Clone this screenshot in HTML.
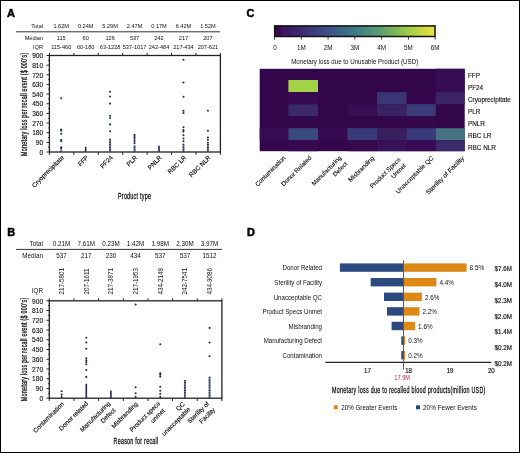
<!DOCTYPE html>
<html><head><meta charset="utf-8"><style>
html,body{margin:0;padding:0;background:#fff;width:520px;height:453px;overflow:hidden}
svg{display:block;will-change:transform}
text{font-family:"Liberation Sans", sans-serif}
</style></head><body>
<svg width="520" height="453" viewBox="0 0 520 453">
<rect x="0.5" y="0.5" width="519" height="452" fill="#fff" stroke="#000" stroke-width="1"/>
<text x="7.00" y="17.00" font-size="11" text-anchor="start" fill="#000" font-weight="bold" stroke="#000" stroke-width="0.5">A</text>
<text x="43.00" y="27.60" font-size="5.6" text-anchor="end" fill="#111" font-weight="normal" >Total</text>
<text x="61.20" y="27.60" font-size="5.6" text-anchor="middle" fill="#111" font-weight="normal" >1.62M</text>
<text x="85.65" y="27.60" font-size="5.6" text-anchor="middle" fill="#111" font-weight="normal" >0.24M</text>
<text x="110.10" y="27.60" font-size="5.6" text-anchor="middle" fill="#111" font-weight="normal" >5.29M</text>
<text x="134.55" y="27.60" font-size="5.6" text-anchor="middle" fill="#111" font-weight="normal" >2.47M</text>
<text x="159.00" y="27.60" font-size="5.6" text-anchor="middle" fill="#111" font-weight="normal" >0.17M</text>
<text x="183.45" y="27.60" font-size="5.6" text-anchor="middle" fill="#111" font-weight="normal" >6.42M</text>
<text x="207.90" y="27.60" font-size="5.6" text-anchor="middle" fill="#111" font-weight="normal" >1.52M</text>
<line x1="16" y1="31.8" x2="220" y2="31.8" stroke="#333" stroke-width="1"/>
<text x="43.00" y="39.60" font-size="5.6" text-anchor="end" fill="#111" font-weight="normal" >Median</text>
<text x="61.20" y="39.60" font-size="5.6" text-anchor="middle" fill="#111" font-weight="normal" >115</text>
<text x="85.65" y="39.60" font-size="5.6" text-anchor="middle" fill="#111" font-weight="normal" >60</text>
<text x="110.10" y="39.60" font-size="5.6" text-anchor="middle" fill="#111" font-weight="normal" >126</text>
<text x="134.55" y="39.60" font-size="5.6" text-anchor="middle" fill="#111" font-weight="normal" >537</text>
<text x="159.00" y="39.60" font-size="5.6" text-anchor="middle" fill="#111" font-weight="normal" >242</text>
<text x="183.45" y="39.60" font-size="5.6" text-anchor="middle" fill="#111" font-weight="normal" >217</text>
<text x="207.90" y="39.60" font-size="5.6" text-anchor="middle" fill="#111" font-weight="normal" >207</text>
<text x="43.00" y="48.50" font-size="5.6" text-anchor="end" fill="#111" font-weight="normal" >IQR</text>
<text x="61.20" y="48.50" font-size="5.6" text-anchor="middle" fill="#111" font-weight="normal" >115-460</text>
<text x="85.65" y="48.50" font-size="5.6" text-anchor="middle" fill="#111" font-weight="normal" >60-180</text>
<text x="110.10" y="48.50" font-size="5.6" text-anchor="middle" fill="#111" font-weight="normal" >63-1228</text>
<text x="134.55" y="48.50" font-size="5.6" text-anchor="middle" fill="#111" font-weight="normal" >537-1017</text>
<text x="159.00" y="48.50" font-size="5.6" text-anchor="middle" fill="#111" font-weight="normal" >242-484</text>
<text x="183.45" y="48.50" font-size="5.6" text-anchor="middle" fill="#111" font-weight="normal" >217-434</text>
<text x="207.90" y="48.50" font-size="5.6" text-anchor="middle" fill="#111" font-weight="normal" >207-621</text>
<rect x="49.4" y="55.5" width="171.0" height="96.5" fill="none" stroke="#222" stroke-width="1.3"/>
<line x1="46.6" y1="152.00" x2="49.4" y2="152.00" stroke="#222" stroke-width="1.0"/>
<text x="43.20" y="154.70" font-size="6.6" text-anchor="end" fill="#111" font-weight="normal"  stroke="#111" stroke-width="0.12">0</text>
<line x1="48.0" y1="147.18" x2="49.4" y2="147.18" stroke="#222" stroke-width="0.8"/>
<line x1="46.6" y1="142.35" x2="49.4" y2="142.35" stroke="#222" stroke-width="1.0"/>
<text x="43.20" y="145.05" font-size="6.6" text-anchor="end" fill="#111" font-weight="normal"  stroke="#111" stroke-width="0.12">90</text>
<line x1="48.0" y1="137.53" x2="49.4" y2="137.53" stroke="#222" stroke-width="0.8"/>
<line x1="46.6" y1="132.70" x2="49.4" y2="132.70" stroke="#222" stroke-width="1.0"/>
<text x="43.20" y="135.40" font-size="6.6" text-anchor="end" fill="#111" font-weight="normal"  stroke="#111" stroke-width="0.12">180</text>
<line x1="48.0" y1="127.87" x2="49.4" y2="127.87" stroke="#222" stroke-width="0.8"/>
<line x1="46.6" y1="123.05" x2="49.4" y2="123.05" stroke="#222" stroke-width="1.0"/>
<text x="43.20" y="125.75" font-size="6.6" text-anchor="end" fill="#111" font-weight="normal"  stroke="#111" stroke-width="0.12">270</text>
<line x1="48.0" y1="118.22" x2="49.4" y2="118.22" stroke="#222" stroke-width="0.8"/>
<line x1="46.6" y1="113.40" x2="49.4" y2="113.40" stroke="#222" stroke-width="1.0"/>
<text x="43.20" y="116.10" font-size="6.6" text-anchor="end" fill="#111" font-weight="normal"  stroke="#111" stroke-width="0.12">360</text>
<line x1="48.0" y1="108.58" x2="49.4" y2="108.58" stroke="#222" stroke-width="0.8"/>
<line x1="46.6" y1="103.75" x2="49.4" y2="103.75" stroke="#222" stroke-width="1.0"/>
<text x="43.20" y="106.45" font-size="6.6" text-anchor="end" fill="#111" font-weight="normal"  stroke="#111" stroke-width="0.12">450</text>
<line x1="48.0" y1="98.92" x2="49.4" y2="98.92" stroke="#222" stroke-width="0.8"/>
<line x1="46.6" y1="94.10" x2="49.4" y2="94.10" stroke="#222" stroke-width="1.0"/>
<text x="43.20" y="96.80" font-size="6.6" text-anchor="end" fill="#111" font-weight="normal"  stroke="#111" stroke-width="0.12">540</text>
<line x1="48.0" y1="89.27" x2="49.4" y2="89.27" stroke="#222" stroke-width="0.8"/>
<line x1="46.6" y1="84.45" x2="49.4" y2="84.45" stroke="#222" stroke-width="1.0"/>
<text x="43.20" y="87.15" font-size="6.6" text-anchor="end" fill="#111" font-weight="normal"  stroke="#111" stroke-width="0.12">630</text>
<line x1="48.0" y1="79.62" x2="49.4" y2="79.62" stroke="#222" stroke-width="0.8"/>
<line x1="46.6" y1="74.80" x2="49.4" y2="74.80" stroke="#222" stroke-width="1.0"/>
<text x="43.20" y="77.50" font-size="6.6" text-anchor="end" fill="#111" font-weight="normal"  stroke="#111" stroke-width="0.12">720</text>
<line x1="48.0" y1="69.97" x2="49.4" y2="69.97" stroke="#222" stroke-width="0.8"/>
<line x1="46.6" y1="65.15" x2="49.4" y2="65.15" stroke="#222" stroke-width="1.0"/>
<text x="43.20" y="67.85" font-size="6.6" text-anchor="end" fill="#111" font-weight="normal"  stroke="#111" stroke-width="0.12">810</text>
<line x1="48.0" y1="60.32" x2="49.4" y2="60.32" stroke="#222" stroke-width="0.8"/>
<line x1="46.6" y1="55.50" x2="49.4" y2="55.50" stroke="#222" stroke-width="1.0"/>
<text x="43.20" y="58.20" font-size="6.6" text-anchor="end" fill="#111" font-weight="normal"  stroke="#111" stroke-width="0.12">900</text>
<line x1="49.40" y1="53.0" x2="49.40" y2="55.5" stroke="#222" stroke-width="1.0"/>
<line x1="49.40" y1="152.0" x2="49.40" y2="154.8" stroke="#222" stroke-width="1.0"/>
<line x1="73.83" y1="53.0" x2="73.83" y2="55.5" stroke="#222" stroke-width="1.0"/>
<line x1="73.83" y1="152.0" x2="73.83" y2="154.8" stroke="#222" stroke-width="1.0"/>
<line x1="98.26" y1="53.0" x2="98.26" y2="55.5" stroke="#222" stroke-width="1.0"/>
<line x1="98.26" y1="152.0" x2="98.26" y2="154.8" stroke="#222" stroke-width="1.0"/>
<line x1="122.69" y1="53.0" x2="122.69" y2="55.5" stroke="#222" stroke-width="1.0"/>
<line x1="122.69" y1="152.0" x2="122.69" y2="154.8" stroke="#222" stroke-width="1.0"/>
<line x1="147.11" y1="53.0" x2="147.11" y2="55.5" stroke="#222" stroke-width="1.0"/>
<line x1="147.11" y1="152.0" x2="147.11" y2="154.8" stroke="#222" stroke-width="1.0"/>
<line x1="171.54" y1="53.0" x2="171.54" y2="55.5" stroke="#222" stroke-width="1.0"/>
<line x1="171.54" y1="152.0" x2="171.54" y2="154.8" stroke="#222" stroke-width="1.0"/>
<line x1="195.97" y1="53.0" x2="195.97" y2="55.5" stroke="#222" stroke-width="1.0"/>
<line x1="195.97" y1="152.0" x2="195.97" y2="154.8" stroke="#222" stroke-width="1.0"/>
<line x1="220.40" y1="53.0" x2="220.40" y2="55.5" stroke="#222" stroke-width="1.0"/>
<line x1="220.40" y1="152.0" x2="220.40" y2="154.8" stroke="#222" stroke-width="1.0"/>
<circle cx="61.20" cy="98.30" r="1.05" fill="#222a52"/>
<circle cx="61.20" cy="129.50" r="1.05" fill="#222a52"/>
<circle cx="61.20" cy="130.70" r="1.05" fill="#222a52"/>
<circle cx="61.20" cy="133.80" r="1.05" fill="#222a52"/>
<circle cx="61.20" cy="140.00" r="1.05" fill="#222a52"/>
<circle cx="61.20" cy="141.20" r="1.05" fill="#222a52"/>
<circle cx="61.20" cy="147.40" r="1.05" fill="#222a52"/>
<circle cx="61.20" cy="148.60" r="1.05" fill="#222a52"/>
<rect x="60.25" y="150.30" width="1.9" height="1.4" fill="#222a52"/>
<rect x="84.85" y="146.80" width="1.6" height="5.20" fill="#222a52"/>
<circle cx="110.10" cy="91.70" r="1.05" fill="#222a52"/>
<circle cx="110.10" cy="96.50" r="1.05" fill="#222a52"/>
<circle cx="110.10" cy="103.60" r="1.05" fill="#222a52"/>
<circle cx="110.10" cy="115.80" r="1.05" fill="#222a52"/>
<circle cx="110.10" cy="118.00" r="1.05" fill="#222a52"/>
<circle cx="110.10" cy="124.40" r="1.05" fill="#222a52"/>
<circle cx="110.10" cy="131.20" r="1.05" fill="#222a52"/>
<rect x="109.15" y="150.30" width="1.9" height="1.4" fill="#222a52"/>
<rect x="109.15" y="148.65" width="1.9" height="1.4" fill="#222a52"/>
<rect x="109.15" y="147.00" width="1.9" height="1.4" fill="#222a52"/>
<rect x="109.15" y="145.35" width="1.9" height="1.4" fill="#222a52"/>
<rect x="109.15" y="143.70" width="1.9" height="1.4" fill="#222a52"/>
<rect x="109.15" y="142.05" width="1.9" height="1.4" fill="#222a52"/>
<rect x="109.15" y="140.40" width="1.9" height="1.4" fill="#222a52"/>
<rect x="109.15" y="138.75" width="1.9" height="1.4" fill="#222a52"/>
<circle cx="134.55" cy="134.90" r="1.05" fill="#222a52"/>
<circle cx="134.55" cy="136.90" r="1.05" fill="#222a52"/>
<circle cx="134.55" cy="138.80" r="1.05" fill="#222a52"/>
<circle cx="134.55" cy="140.90" r="1.05" fill="#222a52"/>
<circle cx="134.55" cy="143.10" r="1.05" fill="#222a52"/>
<rect x="133.60" y="150.30" width="1.9" height="1.4" fill="#222a52"/>
<rect x="133.60" y="148.65" width="1.9" height="1.4" fill="#222a52"/>
<rect x="133.60" y="147.00" width="1.9" height="1.4" fill="#222a52"/>
<rect x="133.60" y="145.35" width="1.9" height="1.4" fill="#222a52"/>
<rect x="158.20" y="145.70" width="1.6" height="6.30" fill="#222a52"/>
<circle cx="183.45" cy="59.70" r="1.05" fill="#222a52"/>
<circle cx="183.45" cy="82.50" r="1.05" fill="#222a52"/>
<circle cx="183.45" cy="96.80" r="1.05" fill="#222a52"/>
<circle cx="183.45" cy="110.70" r="1.05" fill="#222a52"/>
<circle cx="183.45" cy="113.00" r="1.05" fill="#222a52"/>
<circle cx="183.45" cy="127.20" r="1.05" fill="#222a52"/>
<circle cx="183.45" cy="130.00" r="1.05" fill="#222a52"/>
<circle cx="183.45" cy="131.60" r="1.05" fill="#222a52"/>
<circle cx="183.45" cy="135.30" r="1.05" fill="#222a52"/>
<circle cx="183.45" cy="138.50" r="1.05" fill="#222a52"/>
<circle cx="183.45" cy="141.30" r="1.05" fill="#222a52"/>
<rect x="182.50" y="150.30" width="1.9" height="1.4" fill="#222a52"/>
<rect x="182.50" y="148.65" width="1.9" height="1.4" fill="#222a52"/>
<rect x="182.50" y="147.00" width="1.9" height="1.4" fill="#222a52"/>
<rect x="182.50" y="145.35" width="1.9" height="1.4" fill="#222a52"/>
<rect x="182.50" y="143.70" width="1.9" height="1.4" fill="#222a52"/>
<circle cx="207.90" cy="110.70" r="1.05" fill="#222a52"/>
<circle cx="207.90" cy="130.70" r="1.05" fill="#222a52"/>
<circle cx="207.90" cy="137.60" r="1.05" fill="#222a52"/>
<circle cx="207.90" cy="140.00" r="1.05" fill="#222a52"/>
<rect x="206.95" y="150.30" width="1.9" height="1.4" fill="#222a52"/>
<rect x="206.95" y="148.65" width="1.9" height="1.4" fill="#222a52"/>
<rect x="206.95" y="147.00" width="1.9" height="1.4" fill="#222a52"/>
<rect x="206.95" y="145.35" width="1.9" height="1.4" fill="#222a52"/>
<rect x="206.95" y="143.70" width="1.9" height="1.4" fill="#222a52"/>
<rect x="206.95" y="142.05" width="1.9" height="1.4" fill="#222a52"/>
<text x="0" y="0" font-size="6.3" text-anchor="end" fill="#111" stroke="#111" stroke-width="0.15" transform="translate(64.40,158.00) rotate(-45)">Cryoprecipitate</text>
<text x="0" y="0" font-size="6.3" text-anchor="end" fill="#111" stroke="#111" stroke-width="0.15" transform="translate(88.85,158.00) rotate(-45)">FFP</text>
<text x="0" y="0" font-size="6.3" text-anchor="end" fill="#111" stroke="#111" stroke-width="0.15" transform="translate(113.30,158.00) rotate(-45)">PF24</text>
<text x="0" y="0" font-size="6.3" text-anchor="end" fill="#111" stroke="#111" stroke-width="0.15" transform="translate(137.75,158.00) rotate(-45)">PLR</text>
<text x="0" y="0" font-size="6.3" text-anchor="end" fill="#111" stroke="#111" stroke-width="0.15" transform="translate(162.20,158.00) rotate(-45)">PNLR</text>
<text x="0" y="0" font-size="6.3" text-anchor="end" fill="#111" stroke="#111" stroke-width="0.15" transform="translate(186.65,158.00) rotate(-45)">RBC LR</text>
<text x="0" y="0" font-size="6.3" text-anchor="end" fill="#111" stroke="#111" stroke-width="0.15" transform="translate(211.10,158.00) rotate(-45)">RBC NLR</text>
<text x="0" y="0" font-size="8.4" font-weight="normal" fill="#111" textLength="161.25" lengthAdjust="spacing" transform="translate(26.80,155.90) rotate(-90) scale(0.64,1)" stroke="#111" stroke-width="0.28">Monetary loss per recall event ($ 000's)</text>
<text x="0" y="0" font-size="8.4" font-weight="normal" fill="#111" textLength="51.56" lengthAdjust="spacing" transform="translate(118.00,199.20) scale(0.64,1)" stroke="#111" stroke-width="0.28">Product type</text>
<text x="7.20" y="236.30" font-size="11" text-anchor="start" fill="#000" font-weight="bold" stroke="#000" stroke-width="0.5">B</text>
<text x="43.00" y="246.30" font-size="6.3" text-anchor="end" fill="#111" font-weight="normal" >Total</text>
<text x="61.63" y="246.30" font-size="6.3" text-anchor="middle" fill="#111" font-weight="normal" >0.21M</text>
<text x="86.29" y="246.30" font-size="6.3" text-anchor="middle" fill="#111" font-weight="normal" >7.61M</text>
<text x="110.94" y="246.30" font-size="6.3" text-anchor="middle" fill="#111" font-weight="normal" >0.23M</text>
<text x="135.60" y="246.30" font-size="6.3" text-anchor="middle" fill="#111" font-weight="normal" >1.42M</text>
<text x="160.26" y="246.30" font-size="6.3" text-anchor="middle" fill="#111" font-weight="normal" >1.98M</text>
<text x="184.91" y="246.30" font-size="6.3" text-anchor="middle" fill="#111" font-weight="normal" >2.30M</text>
<text x="209.57" y="246.30" font-size="6.3" text-anchor="middle" fill="#111" font-weight="normal" >3.97M</text>
<line x1="16" y1="249.4" x2="222" y2="249.4" stroke="#333" stroke-width="1"/>
<text x="43.00" y="257.70" font-size="6.3" text-anchor="end" fill="#111" font-weight="normal" >Median</text>
<text x="61.63" y="257.70" font-size="6.3" text-anchor="middle" fill="#111" font-weight="normal" >537</text>
<text x="86.29" y="257.70" font-size="6.3" text-anchor="middle" fill="#111" font-weight="normal" >217</text>
<text x="110.94" y="257.70" font-size="6.3" text-anchor="middle" fill="#111" font-weight="normal" >230</text>
<text x="135.60" y="257.70" font-size="6.3" text-anchor="middle" fill="#111" font-weight="normal" >434</text>
<text x="160.26" y="257.70" font-size="6.3" text-anchor="middle" fill="#111" font-weight="normal" >537</text>
<text x="184.91" y="257.70" font-size="6.3" text-anchor="middle" fill="#111" font-weight="normal" >537</text>
<text x="209.57" y="257.70" font-size="6.3" text-anchor="middle" fill="#111" font-weight="normal" >1512</text>
<text x="43.00" y="292.80" font-size="6.3" text-anchor="end" fill="#111" font-weight="normal" >IQR</text>
<text x="0" y="0" font-size="6.3" text-anchor="start" fill="#111" transform="translate(63.93,294.6) rotate(-90)">217-5801</text>
<text x="0" y="0" font-size="6.3" text-anchor="start" fill="#111" transform="translate(88.59,294.6) rotate(-90)">207-1611</text>
<text x="0" y="0" font-size="6.3" text-anchor="start" fill="#111" transform="translate(113.24,294.6) rotate(-90)">217-3871</text>
<text x="0" y="0" font-size="6.3" text-anchor="start" fill="#111" transform="translate(137.90,294.6) rotate(-90)">217-1953</text>
<text x="0" y="0" font-size="6.3" text-anchor="start" fill="#111" transform="translate(162.56,294.6) rotate(-90)">434-2148</text>
<text x="0" y="0" font-size="6.3" text-anchor="start" fill="#111" transform="translate(187.21,294.6) rotate(-90)">242-7541</text>
<text x="0" y="0" font-size="6.3" text-anchor="start" fill="#111" transform="translate(211.87,294.6) rotate(-90)">434-9086</text>
<rect x="49.3" y="300.8" width="172.60000000000002" height="97.39999999999998" fill="none" stroke="#222" stroke-width="1.3"/>
<line x1="46.5" y1="398.20" x2="49.3" y2="398.20" stroke="#222" stroke-width="1.0"/>
<text x="43.10" y="400.90" font-size="6.6" text-anchor="end" fill="#111" font-weight="normal"  stroke="#111" stroke-width="0.12">0</text>
<line x1="47.9" y1="393.33" x2="49.3" y2="393.33" stroke="#222" stroke-width="0.8"/>
<line x1="46.5" y1="388.46" x2="49.3" y2="388.46" stroke="#222" stroke-width="1.0"/>
<text x="43.10" y="391.16" font-size="6.6" text-anchor="end" fill="#111" font-weight="normal"  stroke="#111" stroke-width="0.12">90</text>
<line x1="47.9" y1="383.59" x2="49.3" y2="383.59" stroke="#222" stroke-width="0.8"/>
<line x1="46.5" y1="378.72" x2="49.3" y2="378.72" stroke="#222" stroke-width="1.0"/>
<text x="43.10" y="381.42" font-size="6.6" text-anchor="end" fill="#111" font-weight="normal"  stroke="#111" stroke-width="0.12">180</text>
<line x1="47.9" y1="373.85" x2="49.3" y2="373.85" stroke="#222" stroke-width="0.8"/>
<line x1="46.5" y1="368.98" x2="49.3" y2="368.98" stroke="#222" stroke-width="1.0"/>
<text x="43.10" y="371.68" font-size="6.6" text-anchor="end" fill="#111" font-weight="normal"  stroke="#111" stroke-width="0.12">270</text>
<line x1="47.9" y1="364.11" x2="49.3" y2="364.11" stroke="#222" stroke-width="0.8"/>
<line x1="46.5" y1="359.24" x2="49.3" y2="359.24" stroke="#222" stroke-width="1.0"/>
<text x="43.10" y="361.94" font-size="6.6" text-anchor="end" fill="#111" font-weight="normal"  stroke="#111" stroke-width="0.12">360</text>
<line x1="47.9" y1="354.37" x2="49.3" y2="354.37" stroke="#222" stroke-width="0.8"/>
<line x1="46.5" y1="349.50" x2="49.3" y2="349.50" stroke="#222" stroke-width="1.0"/>
<text x="43.10" y="352.20" font-size="6.6" text-anchor="end" fill="#111" font-weight="normal"  stroke="#111" stroke-width="0.12">450</text>
<line x1="47.9" y1="344.63" x2="49.3" y2="344.63" stroke="#222" stroke-width="0.8"/>
<line x1="46.5" y1="339.76" x2="49.3" y2="339.76" stroke="#222" stroke-width="1.0"/>
<text x="43.10" y="342.46" font-size="6.6" text-anchor="end" fill="#111" font-weight="normal"  stroke="#111" stroke-width="0.12">540</text>
<line x1="47.9" y1="334.89" x2="49.3" y2="334.89" stroke="#222" stroke-width="0.8"/>
<line x1="46.5" y1="330.02" x2="49.3" y2="330.02" stroke="#222" stroke-width="1.0"/>
<text x="43.10" y="332.72" font-size="6.6" text-anchor="end" fill="#111" font-weight="normal"  stroke="#111" stroke-width="0.12">630</text>
<line x1="47.9" y1="325.15" x2="49.3" y2="325.15" stroke="#222" stroke-width="0.8"/>
<line x1="46.5" y1="320.28" x2="49.3" y2="320.28" stroke="#222" stroke-width="1.0"/>
<text x="43.10" y="322.98" font-size="6.6" text-anchor="end" fill="#111" font-weight="normal"  stroke="#111" stroke-width="0.12">720</text>
<line x1="47.9" y1="315.41" x2="49.3" y2="315.41" stroke="#222" stroke-width="0.8"/>
<line x1="46.5" y1="310.54" x2="49.3" y2="310.54" stroke="#222" stroke-width="1.0"/>
<text x="43.10" y="313.24" font-size="6.6" text-anchor="end" fill="#111" font-weight="normal"  stroke="#111" stroke-width="0.12">810</text>
<line x1="47.9" y1="305.67" x2="49.3" y2="305.67" stroke="#222" stroke-width="0.8"/>
<line x1="46.5" y1="300.80" x2="49.3" y2="300.80" stroke="#222" stroke-width="1.0"/>
<text x="43.10" y="303.50" font-size="6.6" text-anchor="end" fill="#111" font-weight="normal"  stroke="#111" stroke-width="0.12">900</text>
<line x1="49.30" y1="298.3" x2="49.30" y2="300.8" stroke="#222" stroke-width="1.0"/>
<line x1="49.30" y1="398.2" x2="49.30" y2="401.0" stroke="#222" stroke-width="1.0"/>
<line x1="73.96" y1="298.3" x2="73.96" y2="300.8" stroke="#222" stroke-width="1.0"/>
<line x1="73.96" y1="398.2" x2="73.96" y2="401.0" stroke="#222" stroke-width="1.0"/>
<line x1="98.61" y1="298.3" x2="98.61" y2="300.8" stroke="#222" stroke-width="1.0"/>
<line x1="98.61" y1="398.2" x2="98.61" y2="401.0" stroke="#222" stroke-width="1.0"/>
<line x1="123.27" y1="298.3" x2="123.27" y2="300.8" stroke="#222" stroke-width="1.0"/>
<line x1="123.27" y1="398.2" x2="123.27" y2="401.0" stroke="#222" stroke-width="1.0"/>
<line x1="147.93" y1="298.3" x2="147.93" y2="300.8" stroke="#222" stroke-width="1.0"/>
<line x1="147.93" y1="398.2" x2="147.93" y2="401.0" stroke="#222" stroke-width="1.0"/>
<line x1="172.59" y1="298.3" x2="172.59" y2="300.8" stroke="#222" stroke-width="1.0"/>
<line x1="172.59" y1="398.2" x2="172.59" y2="401.0" stroke="#222" stroke-width="1.0"/>
<line x1="197.24" y1="298.3" x2="197.24" y2="300.8" stroke="#222" stroke-width="1.0"/>
<line x1="197.24" y1="398.2" x2="197.24" y2="401.0" stroke="#222" stroke-width="1.0"/>
<line x1="221.90" y1="298.3" x2="221.90" y2="300.8" stroke="#222" stroke-width="1.0"/>
<line x1="221.90" y1="398.2" x2="221.90" y2="401.0" stroke="#222" stroke-width="1.0"/>
<circle cx="61.63" cy="391.20" r="1.05" fill="#222a52"/>
<circle cx="61.63" cy="394.60" r="1.05" fill="#222a52"/>
<rect x="60.83" y="396.00" width="1.6" height="2.20" fill="#222a52"/>
<circle cx="86.29" cy="337.70" r="1.05" fill="#222a52"/>
<circle cx="86.29" cy="342.50" r="1.05" fill="#222a52"/>
<circle cx="86.29" cy="348.80" r="1.05" fill="#222a52"/>
<circle cx="86.29" cy="358.30" r="1.05" fill="#222a52"/>
<circle cx="86.29" cy="360.20" r="1.05" fill="#222a52"/>
<circle cx="86.29" cy="362.00" r="1.05" fill="#222a52"/>
<circle cx="86.29" cy="364.20" r="1.05" fill="#222a52"/>
<circle cx="86.29" cy="370.00" r="1.05" fill="#222a52"/>
<circle cx="86.29" cy="376.90" r="1.05" fill="#222a52"/>
<rect x="85.49" y="383.80" width="1.6" height="14.40" fill="#222a52"/>
<rect x="110.14" y="390.50" width="1.6" height="7.70" fill="#222a52"/>
<circle cx="135.60" cy="304.60" r="1.05" fill="#222a52"/>
<circle cx="135.60" cy="387.20" r="1.05" fill="#222a52"/>
<circle cx="135.60" cy="393.30" r="1.05" fill="#222a52"/>
<rect x="134.80" y="395.80" width="1.6" height="2.40" fill="#222a52"/>
<circle cx="160.26" cy="344.30" r="1.05" fill="#222a52"/>
<circle cx="160.26" cy="373.40" r="1.05" fill="#222a52"/>
<circle cx="160.26" cy="374.80" r="1.05" fill="#222a52"/>
<circle cx="160.26" cy="376.60" r="1.05" fill="#222a52"/>
<circle cx="160.26" cy="386.70" r="1.05" fill="#222a52"/>
<circle cx="160.26" cy="390.70" r="1.05" fill="#222a52"/>
<circle cx="160.26" cy="393.80" r="1.05" fill="#222a52"/>
<rect x="159.46" y="395.80" width="1.6" height="2.40" fill="#222a52"/>
<rect x="183.96" y="396.50" width="1.9" height="1.4" fill="#222a52"/>
<rect x="183.96" y="394.85" width="1.9" height="1.4" fill="#222a52"/>
<rect x="183.96" y="393.20" width="1.9" height="1.4" fill="#222a52"/>
<rect x="183.96" y="391.55" width="1.9" height="1.4" fill="#222a52"/>
<rect x="183.96" y="389.90" width="1.9" height="1.4" fill="#222a52"/>
<rect x="183.96" y="388.25" width="1.9" height="1.4" fill="#222a52"/>
<rect x="183.96" y="386.60" width="1.9" height="1.4" fill="#222a52"/>
<rect x="183.96" y="384.95" width="1.9" height="1.4" fill="#222a52"/>
<rect x="183.96" y="383.30" width="1.9" height="1.4" fill="#222a52"/>
<rect x="183.96" y="381.65" width="1.9" height="1.4" fill="#222a52"/>
<rect x="183.96" y="380.00" width="1.9" height="1.4" fill="#222a52"/>
<circle cx="209.57" cy="327.90" r="1.05" fill="#222a52"/>
<circle cx="209.57" cy="342.50" r="1.05" fill="#222a52"/>
<circle cx="209.57" cy="356.20" r="1.05" fill="#222a52"/>
<rect x="208.62" y="396.50" width="1.9" height="1.4" fill="#222a52"/>
<rect x="208.62" y="394.85" width="1.9" height="1.4" fill="#222a52"/>
<rect x="208.62" y="393.20" width="1.9" height="1.4" fill="#222a52"/>
<rect x="208.62" y="391.55" width="1.9" height="1.4" fill="#222a52"/>
<rect x="208.62" y="389.90" width="1.9" height="1.4" fill="#222a52"/>
<rect x="208.62" y="388.25" width="1.9" height="1.4" fill="#222a52"/>
<rect x="208.62" y="386.60" width="1.9" height="1.4" fill="#222a52"/>
<rect x="208.62" y="384.95" width="1.9" height="1.4" fill="#222a52"/>
<rect x="208.62" y="383.30" width="1.9" height="1.4" fill="#222a52"/>
<rect x="208.62" y="381.65" width="1.9" height="1.4" fill="#222a52"/>
<rect x="208.62" y="380.00" width="1.9" height="1.4" fill="#222a52"/>
<rect x="208.62" y="378.35" width="1.9" height="1.4" fill="#222a52"/>
<rect x="208.62" y="376.70" width="1.9" height="1.4" fill="#222a52"/>
<text x="0" y="0" font-size="6.3" text-anchor="end" fill="#111" stroke="#111" stroke-width="0.15" transform="translate(64.40,404.50) rotate(-45)">Contamination</text>
<text x="0" y="0" font-size="6.3" text-anchor="end" fill="#111" stroke="#111" stroke-width="0.15" transform="translate(88.60,404.00) rotate(-45)">Donor related</text>
<text x="0" y="0" font-size="6.3" text-anchor="end" fill="#111" stroke="#111" stroke-width="0.15" transform="translate(110.80,404.00) rotate(-45)">Manufacturing</text>
<text x="0" y="0" font-size="6.3" text-anchor="end" fill="#111" stroke="#111" stroke-width="0.15" transform="translate(116.00,410.70) rotate(-45)">Defect</text>
<text x="0" y="0" font-size="6.3" text-anchor="end" fill="#111" stroke="#111" stroke-width="0.15" transform="translate(138.20,404.50) rotate(-45)">Misbranding</text>
<text x="0" y="0" font-size="6.3" text-anchor="end" fill="#111" stroke="#111" stroke-width="0.15" transform="translate(160.40,404.00) rotate(-45)">Product specs</text>
<text x="0" y="0" font-size="6.3" text-anchor="end" fill="#111" stroke="#111" stroke-width="0.15" transform="translate(165.40,411.00) rotate(-45)">unmet</text>
<text x="0" y="0" font-size="6.3" text-anchor="end" fill="#111" stroke="#111" stroke-width="0.15" transform="translate(185.20,404.60) rotate(-45)">QC</text>
<text x="0" y="0" font-size="6.3" text-anchor="end" fill="#111" stroke="#111" stroke-width="0.15" transform="translate(190.80,409.80) rotate(-45)">unacceptable</text>
<text x="0" y="0" font-size="6.3" text-anchor="end" fill="#111" stroke="#111" stroke-width="0.15" transform="translate(209.60,404.20) rotate(-45)">Sterility of</text>
<text x="0" y="0" font-size="6.3" text-anchor="end" fill="#111" stroke="#111" stroke-width="0.15" transform="translate(215.60,410.20) rotate(-45)">Facility</text>
<text x="0" y="0" font-size="8.4" font-weight="normal" fill="#111" textLength="161.56" lengthAdjust="spacing" transform="translate(26.80,401.20) rotate(-90) scale(0.64,1)" stroke="#111" stroke-width="0.28">Monetary loss per recall event ($ 000's)</text>
<text x="0" y="0" font-size="8.4" font-weight="normal" fill="#111" textLength="69.69" lengthAdjust="spacing" transform="translate(113.60,443.80) scale(0.64,1)" stroke="#111" stroke-width="0.28">Reason for recall</text>
<text x="246.50" y="16.80" font-size="11" text-anchor="start" fill="#000" font-weight="bold" stroke="#000" stroke-width="0.5">C</text>
<defs><linearGradient id="vir" x1="0" x2="1" y1="0" y2="0"><stop offset="0" stop-color="#38094f"/><stop offset="0.035" stop-color="#38094f"/><stop offset="0.045" stop-color="#3a1660"/><stop offset="0.08" stop-color="#3b1a64"/><stop offset="0.167" stop-color="#3e2c70"/><stop offset="0.333" stop-color="#3d5088"/><stop offset="0.5" stop-color="#3f7888"/><stop offset="0.667" stop-color="#5ea06c"/><stop offset="0.833" stop-color="#a0cc48"/><stop offset="1.0" stop-color="#f0e23a"/></linearGradient></defs>
<rect x="274.7" y="25.9" width="160.30" height="10.6" fill="url(#vir)" stroke="#111" stroke-width="1.5"/>
<line x1="274.50" y1="36.6" x2="274.50" y2="39.6" stroke="#111" stroke-width="0.8"/>
<text x="275.00" y="50.40" font-size="6.3" text-anchor="middle" fill="#111" font-weight="normal" >0</text>
<line x1="301.28" y1="36.6" x2="301.28" y2="39.6" stroke="#111" stroke-width="0.8"/>
<text x="301.28" y="50.40" font-size="6.3" text-anchor="middle" fill="#111" font-weight="normal" >1M</text>
<line x1="328.07" y1="36.6" x2="328.07" y2="39.6" stroke="#111" stroke-width="0.8"/>
<text x="328.07" y="50.40" font-size="6.3" text-anchor="middle" fill="#111" font-weight="normal" >2M</text>
<line x1="354.85" y1="36.6" x2="354.85" y2="39.6" stroke="#111" stroke-width="0.8"/>
<text x="354.85" y="50.40" font-size="6.3" text-anchor="middle" fill="#111" font-weight="normal" >3M</text>
<line x1="381.63" y1="36.6" x2="381.63" y2="39.6" stroke="#111" stroke-width="0.8"/>
<text x="381.63" y="50.40" font-size="6.3" text-anchor="middle" fill="#111" font-weight="normal" >4M</text>
<line x1="408.42" y1="36.6" x2="408.42" y2="39.6" stroke="#111" stroke-width="0.8"/>
<text x="408.42" y="50.40" font-size="6.3" text-anchor="middle" fill="#111" font-weight="normal" >5M</text>
<line x1="435.20" y1="36.6" x2="435.20" y2="39.6" stroke="#111" stroke-width="0.8"/>
<text x="435.20" y="50.40" font-size="6.3" text-anchor="middle" fill="#111" font-weight="normal" >6M</text>
<text x="291.2" y="63.5" font-size="6.3" fill="#111" textLength="127" lengthAdjust="spacingAndGlyphs">Monetary loss due to Unusable Product (USD)</text>
<rect x="259.7" y="68.8" width="205.00" height="82.40" fill="#33064b"/>
<rect x="435.80" y="68.80" width="28.90" height="11.20" fill="#380c55"/>
<rect x="288.40" y="80.00" width="29.60" height="12.15" fill="#a2d246"/>
<rect x="435.80" y="80.00" width="28.90" height="12.15" fill="#380c55"/>
<rect x="288.40" y="92.15" width="29.60" height="12.10" fill="#360951"/>
<rect x="377.00" y="92.15" width="29.50" height="12.10" fill="#3a3676"/>
<rect x="435.80" y="92.15" width="28.90" height="12.10" fill="#3a2466"/>
<rect x="288.40" y="104.25" width="29.60" height="11.95" fill="#3a2a6a"/>
<rect x="347.50" y="104.25" width="29.50" height="11.95" fill="#370e53"/>
<rect x="377.00" y="104.25" width="29.50" height="11.95" fill="#392262"/>
<rect x="406.50" y="104.25" width="29.30" height="11.95" fill="#3a3c7a"/>
<rect x="406.50" y="116.20" width="29.30" height="12.00" fill="#35084e"/>
<rect x="259.70" y="128.20" width="28.70" height="12.00" fill="#370b54"/>
<rect x="288.40" y="128.20" width="29.60" height="12.00" fill="#3a4a80"/>
<rect x="318.00" y="128.20" width="29.50" height="12.00" fill="#360a52"/>
<rect x="347.50" y="128.20" width="29.50" height="12.00" fill="#3a3a78"/>
<rect x="377.00" y="128.20" width="29.50" height="12.00" fill="#38205e"/>
<rect x="406.50" y="128.20" width="29.30" height="12.00" fill="#3a3a7a"/>
<rect x="435.80" y="128.20" width="28.90" height="12.00" fill="#467282"/>
<rect x="288.40" y="140.20" width="29.60" height="11.00" fill="#360951"/>
<rect x="347.50" y="140.20" width="29.50" height="11.00" fill="#35084e"/>
<rect x="377.00" y="140.20" width="29.50" height="11.00" fill="#38125a"/>
<rect x="406.50" y="140.20" width="29.30" height="11.00" fill="#370c55"/>
<rect x="435.80" y="140.20" width="28.90" height="11.00" fill="#3a2a6c"/>
<text x="467.90" y="78.00" font-size="6.4" text-anchor="start" fill="#111" font-weight="normal"  stroke="#111" stroke-width="0.12">FFP</text>
<text x="467.90" y="89.95" font-size="6.4" text-anchor="start" fill="#111" font-weight="normal"  stroke="#111" stroke-width="0.12">PF24</text>
<text x="467.90" y="101.90" font-size="6.4" text-anchor="start" fill="#111" font-weight="normal"  stroke="#111" stroke-width="0.12">Cryoprecipitate</text>
<text x="467.90" y="113.85" font-size="6.4" text-anchor="start" fill="#111" font-weight="normal"  stroke="#111" stroke-width="0.12">PLR</text>
<text x="467.90" y="125.80" font-size="6.4" text-anchor="start" fill="#111" font-weight="normal"  stroke="#111" stroke-width="0.12">PNLR</text>
<text x="467.90" y="137.75" font-size="6.4" text-anchor="start" fill="#111" font-weight="normal"  stroke="#111" stroke-width="0.12">RBC LR</text>
<text x="467.90" y="149.70" font-size="6.4" text-anchor="start" fill="#111" font-weight="normal"  stroke="#111" stroke-width="0.12">RBC NLR</text>
<text x="0" y="0" font-size="6.2" text-anchor="end" fill="#111" stroke="#111" stroke-width="0.12" transform="translate(285.90,158.50) rotate(-45)">Contamination</text>
<text x="0" y="0" font-size="6.2" text-anchor="end" fill="#111" stroke="#111" stroke-width="0.12" transform="translate(311.90,158.20) rotate(-45)">Donor Related</text>
<text x="0" y="0" font-size="6.2" text-anchor="end" fill="#111" stroke="#111" stroke-width="0.12" transform="translate(341.90,158.20) rotate(-45)">Manufacturing</text>
<text x="0" y="0" font-size="6.2" text-anchor="end" fill="#111" stroke="#111" stroke-width="0.12" transform="translate(347.90,164.20) rotate(-45)">Defect</text>
<text x="0" y="0" font-size="6.2" text-anchor="end" fill="#111" stroke="#111" stroke-width="0.12" transform="translate(374.70,158.50) rotate(-45)">Misbranding</text>
<text x="0" y="0" font-size="6.2" text-anchor="end" fill="#111" stroke="#111" stroke-width="0.12" transform="translate(400.90,160.10) rotate(-45)">Product Specs</text>
<text x="0" y="0" font-size="6.2" text-anchor="end" fill="#111" stroke="#111" stroke-width="0.12" transform="translate(406.30,166.10) rotate(-45)">Unmet</text>
<text x="0" y="0" font-size="6.2" text-anchor="end" fill="#111" stroke="#111" stroke-width="0.12" textLength="50.4" lengthAdjust="spacingAndGlyphs" transform="translate(433.90,158.50) rotate(-45)">Unacceptable QC</text>
<text x="0" y="0" font-size="6.2" text-anchor="end" fill="#111" stroke="#111" stroke-width="0.12" textLength="51.0" lengthAdjust="spacingAndGlyphs" transform="translate(464.60,158.70) rotate(-45)">Sterility of Facility</text>
<text x="246.90" y="236.10" font-size="11" text-anchor="start" fill="#000" font-weight="bold" stroke="#000" stroke-width="0.5">D</text>
<rect x="339.90" y="263.40" width="63.30" height="8.4" fill="#2c4a80"/>
<rect x="403.20" y="263.40" width="63.40" height="8.4" fill="#dd8918"/>
<text x="0" y="0" font-size="6.9" text-anchor="end" fill="#111" font-weight="normal" transform="translate(322.00,270.45) scale(0.89,1)" >Donor Related</text>
<text x="0" y="0" font-size="6.9" text-anchor="start" fill="#111" font-weight="normal" transform="translate(469.60,270.40) scale(0.92,1)" >8.5%</text>
<text x="0" y="0" font-size="6.9" text-anchor="start" fill="#111" font-weight="normal" transform="translate(494.60,270.80) scale(0.9,1)"  stroke="#111" stroke-width="0.18">$7.6M</text>
<rect x="370.70" y="278.00" width="32.50" height="8.4" fill="#2c4a80"/>
<rect x="403.20" y="278.00" width="33.20" height="8.4" fill="#dd8918"/>
<text x="0" y="0" font-size="6.9" text-anchor="end" fill="#111" font-weight="normal" transform="translate(322.00,285.05) scale(0.89,1)" >Sterility of Facility</text>
<text x="0" y="0" font-size="6.9" text-anchor="start" fill="#111" font-weight="normal" transform="translate(439.40,285.00) scale(0.92,1)" >4.4%</text>
<text x="0" y="0" font-size="6.9" text-anchor="start" fill="#111" font-weight="normal" transform="translate(494.60,286.70) scale(0.9,1)"  stroke="#111" stroke-width="0.18">$4.0M</text>
<rect x="384.00" y="292.60" width="19.20" height="8.4" fill="#2c4a80"/>
<rect x="403.20" y="292.60" width="18.70" height="8.4" fill="#dd8918"/>
<text x="0" y="0" font-size="6.9" text-anchor="end" fill="#111" font-weight="normal" transform="translate(322.00,299.65) scale(0.89,1)" >Unacceptable QC</text>
<text x="0" y="0" font-size="6.9" text-anchor="start" fill="#111" font-weight="normal" transform="translate(424.90,299.60) scale(0.92,1)" >2.6%</text>
<text x="0" y="0" font-size="6.9" text-anchor="start" fill="#111" font-weight="normal" transform="translate(494.60,302.60) scale(0.9,1)"  stroke="#111" stroke-width="0.18">$2.3M</text>
<rect x="387.00" y="307.20" width="16.20" height="8.4" fill="#2c4a80"/>
<rect x="403.20" y="307.20" width="16.30" height="8.4" fill="#dd8918"/>
<text x="0" y="0" font-size="6.9" text-anchor="end" fill="#111" font-weight="normal" transform="translate(322.00,314.25) scale(0.89,1)" >Product Specs Unmet</text>
<text x="0" y="0" font-size="6.9" text-anchor="start" fill="#111" font-weight="normal" transform="translate(422.50,314.20) scale(0.92,1)" >2.2%</text>
<text x="0" y="0" font-size="6.9" text-anchor="start" fill="#111" font-weight="normal" transform="translate(494.60,318.50) scale(0.9,1)"  stroke="#111" stroke-width="0.18">$2.0M</text>
<rect x="391.60" y="321.80" width="11.60" height="8.4" fill="#2c4a80"/>
<rect x="403.20" y="321.80" width="11.90" height="8.4" fill="#dd8918"/>
<text x="0" y="0" font-size="6.9" text-anchor="end" fill="#111" font-weight="normal" transform="translate(322.00,328.85) scale(0.89,1)" >Misbranding</text>
<text x="0" y="0" font-size="6.9" text-anchor="start" fill="#111" font-weight="normal" transform="translate(418.10,328.80) scale(0.92,1)" >1.6%</text>
<text x="0" y="0" font-size="6.9" text-anchor="start" fill="#111" font-weight="normal" transform="translate(494.60,334.40) scale(0.9,1)"  stroke="#111" stroke-width="0.18">$1.4M</text>
<rect x="401.30" y="336.40" width="1.90" height="8.4" fill="#2c4a80"/>
<rect x="403.20" y="336.40" width="2.00" height="8.4" fill="#dd8918"/>
<text x="0" y="0" font-size="6.9" text-anchor="end" fill="#111" font-weight="normal" transform="translate(322.00,343.45) scale(0.89,1)" >Manufacturing Defect</text>
<text x="0" y="0" font-size="6.9" text-anchor="start" fill="#111" font-weight="normal" transform="translate(408.20,343.40) scale(0.92,1)" >0.3%</text>
<text x="0" y="0" font-size="6.9" text-anchor="start" fill="#111" font-weight="normal" transform="translate(494.60,350.30) scale(0.9,1)"  stroke="#111" stroke-width="0.18">$0.2M</text>
<rect x="401.30" y="351.00" width="1.90" height="8.4" fill="#2c4a80"/>
<rect x="403.20" y="351.00" width="2.00" height="8.4" fill="#dd8918"/>
<text x="0" y="0" font-size="6.9" text-anchor="end" fill="#111" font-weight="normal" transform="translate(322.00,358.05) scale(0.89,1)" >Contamination</text>
<text x="0" y="0" font-size="6.9" text-anchor="start" fill="#111" font-weight="normal" transform="translate(408.20,358.00) scale(0.92,1)" >0.2%</text>
<text x="0" y="0" font-size="6.9" text-anchor="start" fill="#111" font-weight="normal" transform="translate(494.60,366.20) scale(0.9,1)"  stroke="#111" stroke-width="0.18">$0.2M</text>
<line x1="325.4" y1="362.4" x2="491.3" y2="362.4" stroke="#222" stroke-width="1.1"/>
<line x1="403.5" y1="260.3" x2="403.5" y2="369.5" stroke="#c42844" stroke-width="1"/>
<text x="0" y="0" font-size="6.4" text-anchor="middle" fill="#111" font-weight="normal" transform="translate(367.40,372.90) scale(0.95,1)"  stroke="#111" stroke-width="0.15">17</text>
<text x="0" y="0" font-size="6.4" text-anchor="middle" fill="#111" font-weight="normal" transform="translate(408.60,372.90) scale(0.95,1)"  stroke="#111" stroke-width="0.15">18</text>
<text x="0" y="0" font-size="6.4" text-anchor="middle" fill="#111" font-weight="normal" transform="translate(450.10,372.90) scale(0.95,1)"  stroke="#111" stroke-width="0.15">19</text>
<text x="0" y="0" font-size="6.4" text-anchor="middle" fill="#111" font-weight="normal" transform="translate(491.30,372.90) scale(0.95,1)"  stroke="#111" stroke-width="0.15">20</text>
<text x="0" y="0" font-size="6.3" text-anchor="middle" fill="#c42844" font-weight="normal" transform="translate(402.20,380.20) scale(0.9,1)" >17.9M</text>
<text x="0" y="0" font-size="8.4" font-weight="normal" fill="#111" textLength="239.69" lengthAdjust="spacing" transform="translate(332.00,392.60) scale(0.64,1)" stroke="#111" stroke-width="0.25">Monetary loss due to recalled blood products(million USD)</text>
<rect x="333.8" y="405.3" width="4" height="4" fill="#dd8918"/>
<text x="0" y="0" font-size="6.3" text-anchor="start" fill="#111" font-weight="normal" transform="translate(341.30,409.80) scale(0.99,1)" >20% Greater Events</text>
<rect x="416.0" y="405.3" width="4" height="4" fill="#2c4a80"/>
<text x="0" y="0" font-size="6.3" text-anchor="start" fill="#111" font-weight="normal" transform="translate(423.00,409.80) scale(1.02,1)" >20% Fewer Events</text>
</svg>
</body></html>
